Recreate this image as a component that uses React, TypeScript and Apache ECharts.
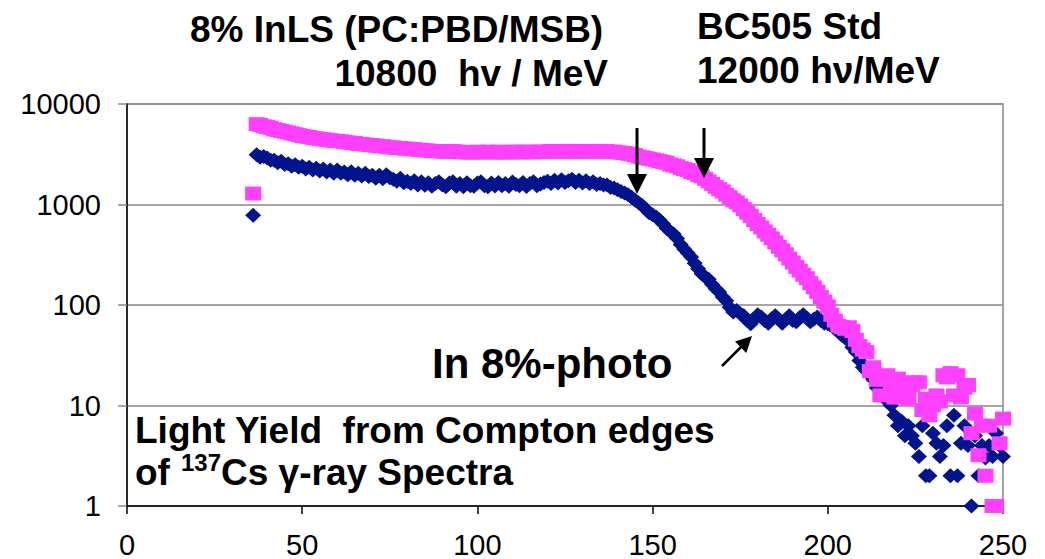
import React, { useEffect, useRef } from "react";
import * as echarts from "echarts";

// channel (x) of the first point of each series; one point per unit channel
const firstChannel = 36;

// 8% InLS (blue diamonds), x = 36 .. 250
const inlsValues = [
  780, 3130, 2950, 3000, // 36-39
  2900, 2750, 2750, 2600, 2700, 2500, 2550, 2400, 2480, 2350, // 40-49
  2400, 2250, 2350, 2200, 2300, 2150, 2250, 2100, 2200, 2050, // 50-59
  2200, 2050, 2100, 1980, 2120, 1950, 2050, 1920, 2050, 1900, // 60-69
  1950, 1820, 1950, 1800, 1980, 1850, 1780, 1700, 1820, 1650, // 70-79
  1700, 1620, 1720, 1560, 1680, 1550, 1650, 1520, 1620, 1680, // 80-89
  1560, 1500, 1640, 1680, 1520, 1620, 1500, 1650, 1540, 1520, // 90-99
  1640, 1680, 1540, 1500, 1640, 1530, 1660, 1540, 1620, 1520, // 100-109
  1670, 1580, 1540, 1660, 1510, 1620, 1680, 1540, 1600, 1660, // 110-119
  1700, 1620, 1740, 1640, 1760, 1660, 1720, 1780, 1660, 1740, // 120-129
  1640, 1720, 1620, 1680, 1580, 1620, 1560, 1560, 1480, 1460, // 130-139
  1400, 1350, 1300, 1250, 1180, 1100, 1040, 980, 900, 830, // 140-149
  790, 750, 700, 640, 580, 540, 510, 460, 400, 360, // 150-159
  330, 300, 260, 230, 205, 190, 180, 160, 145, 135, // 160-169
  120, 110, 95, 85, 88, 82, 78, 70, 65, 72, // 170-179
  80, 76, 70, 66, 73, 78, 72, 66, 72, 78, // 180-189
  70, 68, 75, 80, 74, 68, 72, 76, 70, 66, // 190-199
  65, 62, 58, 55, 50, 47, 44, 38, 34, 28, // 200-209
  24, 22, 20, 18, 15, 13, 12, 11, 10, 8, // 210-219
  6.3, 7, 5, 6.3, 5, 4.2, 3.1, 6.3, 2, 2, // 220-229
  5.3, 4.2, 3.1, 4, 6.3, 2, 8, 2, 4.2, 6.3, // 230-239
  4, 1, 5, 2, 4, 3, 4, 3.1, 5.3, 4, // 240-249
  3.1, // 250
];

// BC505 Std (magenta squares), x = 36 .. 250
const bc505Values = [
  1285, 6300, 6200, 6000, // 36-39
  5900, 5800, 5600, 5500, 5400, 5300, 5200, 5100, 5000, 4900, // 40-49
  4800, 4750, 4700, 4600, 4550, 4500, 4450, 4400, 4350, 4300, // 50-59
  4300, 4250, 4200, 4150, 4100, 4100, 4000, 4000, 3950, 3900, // 60-69
  3900, 3850, 3800, 3800, 3750, 3700, 3700, 3650, 3650, 3600, // 70-79
  3600, 3550, 3550, 3500, 3500, 3450, 3450, 3400, 3400, 3400, // 80-89
  3350, 3350, 3350, 3400, 3350, 3350, 3300, 3300, 3300, 3300, // 90-99
  3350, 3300, 3300, 3350, 3300, 3300, 3350, 3300, 3300, 3300, // 100-109
  3350, 3350, 3300, 3300, 3350, 3350, 3300, 3350, 3350, 3350, // 110-119
  3350, 3400, 3350, 3350, 3400, 3350, 3350, 3400, 3350, 3350, // 120-129
  3400, 3350, 3350, 3400, 3350, 3350, 3350, 3400, 3350, 3350, // 130-139
  3300, 3280, 3250, 3200, 3150, 3100, 3000, 2950, 2900, 2850, // 140-149
  2800, 2750, 2700, 2650, 2600, 2500, 2450, 2400, 2300, 2250, // 150-159
  2200, 2100, 2050, 1950, 1900, 1800, 1700, 1600, 1500, 1420, // 160-169
  1350, 1250, 1180, 1100, 1050, 980, 900, 830, 770, 700, // 170-179
  640, 590, 540, 500, 460, 420, 380, 350, 320, 290, // 180-189
  265, 240, 220, 200, 185, 165, 150, 135, 120, 108, // 190-199
  97, 80, 70, 62, 60, 58, 60, 55, 45, 39, // 200-209
  36, 34, 22, 24, 18, 12.6, 19, 20, 15, 12, // 210-219
  18.5, 17, 13, 11.7, 16, 17, 17, 9, 11.7, 8, // 220-229
  10, 12.6, 11, 20, 19, 21, 12.6, 20, 12, 15, // 230-239
  16, 5.3, 8.3, 3.2, 6.3, 2, 6.3, 1, 1, 4.2, // 240-249
  7.4, // 250
];

const xTicks = [0, 50, 100, 150, 200, 250];
const yTicks = [1, 10, 100, 1000, 10000];

const BLUE = "#00148C";
const PINK = "#FF40FF";
const FONT = '"Liberation Sans", Arial, sans-serif';

function toPoints(values: number[]) {
  return values.map((v, i) => [firstChannel + i, v]);
}

function txt(text: string, x: number, y: number, size: number, align = "left") {
  return {
    type: "text",
    x,
    y,
    z: 100,
    style: {
      text,
      fill: "#000",
      font: `bold ${size}px ${FONT}`,
      align,
      verticalAlign: "middle",
      textAlign: align,
      textVerticalAlign: "middle",
    },
  };
}

function downArrow(x: number, y0: number, baseY: number, tipY: number) {
  return [
    { type: "line", z: 100, shape: { x1: x, y1: y0, x2: x, y2: baseY + 1 }, style: { stroke: "#000", lineWidth: 3 } },
    {
      type: "polygon",
      z: 100,
      shape: { points: [[x - 10, baseY], [x + 10, baseY], [x, tipY]] },
      style: { fill: "#000" },
    },
  ];
}

export default function App() {
  const ref = useRef<HTMLDivElement>(null);
  useEffect(() => {
    if (!ref.current) return;
    const chart = echarts.init(ref.current, undefined, { renderer: "svg" });
    chart.setOption({
      animation: false,
      backgroundColor: "#fff",
      grid: {
        left: 127,
        top: 104,
        right: 42,
        bottom: 51,
        show: true,
        borderColor: "#888",
        borderWidth: 1.5,
      },
      xAxis: {
        type: "value",
        min: xTicks[0],
        max: xTicks[xTicks.length - 1],
        interval: 50,
        axisLine: { show: true, onZero: false, lineStyle: { color: "#000", width: 1.5 } },
        axisTick: { show: true, inside: false, length: 8, lineStyle: { color: "#000", width: 1.5 } },
        splitLine: { show: false },
        axisLabel: {
          color: "#000",
          fontSize: 29,
          fontFamily: FONT,
          margin: 24,
          formatter: (v: number) => String(v),
        },
      },
      yAxis: {
        type: "log",
        logBase: 10,
        min: yTicks[0],
        max: yTicks[yTicks.length - 1],
        axisLine: { show: true, lineStyle: { color: "#000", width: 1.5 } },
        axisTick: { show: true, inside: false, length: 9, lineStyle: { color: "#888", width: 1.5 } },
        minorTick: { show: false },
        splitLine: { show: true, lineStyle: { color: "#888", width: 1.5 } },
        axisLabel: {
          color: "#000",
          fontSize: 29,
          fontFamily: FONT,
          margin: 26,
          formatter: (v: number) => String(Math.round(v)),
        },
      },
      series: [
        {
          name: "8% InLS (PC:PBD/MSB)",
          type: "scatter",
          data: toPoints(inlsValues),
          symbol: "diamond",
          symbolSize: [16, 15],
          itemStyle: { color: BLUE, opacity: 1 },
          z: 2,
        },
        {
          name: "BC505 Std",
          type: "scatter",
          data: toPoints(bc505Values),
          symbol: "rect",
          symbolSize: [16, 14],
          itemStyle: { color: PINK, opacity: 1 },
          z: 3,
        },
      ],
      graphic: [
        txt("8% InLS (PC:PBD/MSB)", 190, 29, 37),
        txt("10800  hv / MeV", 608, 73, 37, "right"),
        txt("BC505 Std", 697, 26, 37),
        txt("12000 h\u03bd/MeV", 697, 70, 37),
        txt("In 8%-photo", 432, 363, 42),
        txt("Light Yield  from Compton edges", 135, 430, 37),
        txt("of", 135, 472, 37),
        txt("137", 181, 462, 24),
        txt("Cs \u03b3-ray Spectra", 221, 472, 37),
        ...downArrow(637, 128, 174, 194),
        ...downArrow(704, 128, 158, 178),
        { type: "line", z: 100, shape: { x1: 722, y1: 366, x2: 742, y2: 346 }, style: { stroke: "#000", lineWidth: 2.5 } },
        {
          type: "polygon",
          z: 100,
          shape: { points: [[752, 336], [746.3, 353], [735, 341.6]] },
          style: { fill: "#000" },
        },
      ],
    });
    return () => chart.dispose();
  }, []);
  return (
    <div
      ref={ref}
      style={{ position: "absolute", left: 0, top: 0, width: 1045, height: 559 }}
    />
  );
}
